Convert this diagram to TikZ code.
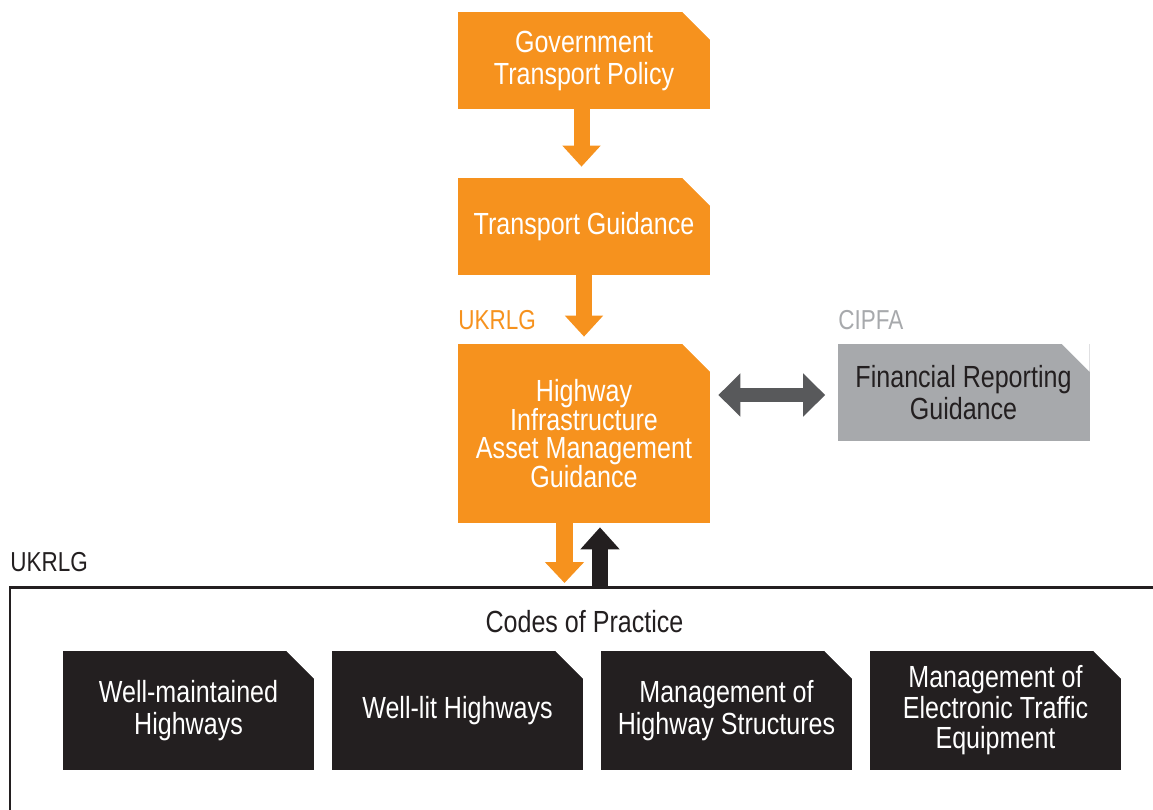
\documentclass[tikz,border=0pt]{standalone}
\usepackage{fontspec}
\setmainfont{Liberation Sans}[FakeStretch=0.82]
\usetikzlibrary{arrows.meta,positioning,calc}
\definecolor{hiorange}{HTML}{F6921E}
\definecolor{cipfagrey}{HTML}{A7A9AC}
\definecolor{linkgrey}{HTML}{58595B}
\definecolor{codesblack}{HTML}{231F20}
\tikzset{
    panel/.style={inner sep=0pt, align=center, minimum width=5.04cm, minimum height=1.94cm,
        font=\fontsize{17.4}{18.2}\selectfont,
        path picture={\fill[white] ([xshift=-0.55cm]path picture bounding box.north east)
            -- (path picture bounding box.north east) -- ([yshift=-0.55cm]path picture bounding box.north east) -- cycle;}},
    orangebox/.style={panel, fill=hiorange, text=white},
    greybox/.style={panel, fill=cipfagrey, text=codesblack},
    blackbox/.style={panel, fill=codesblack, text=white, minimum width=5.02cm, minimum height=2.38cm},
    flowarrow/.style={line width=0.32cm, -{Triangle[length=0.42cm, width=0.74cm]}},
    tag/.style={inner sep=0pt, anchor=west, font=\fontsize{15.6}{17}\selectfont}
}
\begin{document}
\begin{tikzpicture}
\useasboundingbox (0,0) rectangle (23.06,-16.18);
\node[orangebox] (gov) at (11.68,-1.21) {Government\\Transport Policy};
\node[orangebox] (guide) at (11.68,-4.53) {Transport Guidance};
\node[orangebox, minimum height=3.58cm, font=\fontsize{17.4}{16.4}\selectfont] (hiam) at (11.68,-8.67) {Highway\\Infrastructure\\Asset Management\\Guidance};
\node[greybox] (fin) at (19.27,-7.85) {Financial Reporting\\Guidance};
\node[tag, text=hiorange] (ukrlgtop) at (9.16,-6.4) {UKRLG};
\node[tag, text=cipfagrey] (cipfa) at (16.76,-6.4) {CIPFA};
\node[tag, text=codesblack] (ukrlg) at (0.2,-11.24) {UKRLG};
\node[inner sep=0pt, font=\fontsize{17.4}{18.2}\selectfont, text=codesblack] (codes) at (11.69,-12.44) {Codes of Practice};

\node[blackbox] (wellkept) at (3.77,-14.21) {Well-maintained\\Highways};
\node[blackbox] (welllit) at (9.15,-14.21) {Well-lit Highways};
\node[blackbox] (structures) at (14.53,-14.21) {Management of\\Highway Structures};
\node[blackbox, font=\fontsize{17.4}{17.4}\selectfont] (traffic) at (19.91,-14.21) {Management of\\Electronic Traffic\\Equipment};

\coordinate (fl) at (0.2,-16.4);
\coordinate (ft) at (0.2,-11.74);
\coordinate (fr) at (23.3,-11.74);
\draw[line width=0.06cm, codesblack] (fl) -- (ft) -- (fr);

\draw[flowarrow, hiorange] ([xshift=-0.05cm]gov.south) -- ([xshift=-0.05cm, yshift=0.22cm]guide.north);
\draw[flowarrow, hiorange] (guide.south) -- ([yshift=0.14cm]hiam.north);
\draw[line width=0.28cm, linkgrey, {Triangle[length=0.44cm, width=0.84cm]}-{Triangle[length=0.44cm, width=0.84cm]}]
    ([xshift=0.16cm, yshift=-0.05cm]hiam.east |- fin.west) -- ([xshift=-0.24cm, yshift=-0.05cm]fin.west);
\draw[flowarrow, hiorange, line width=0.34cm, -{Triangle[length=0.42cm, width=0.76cm]}]
    ($(hiam.south)+(-0.39,0)$) -- ($(hiam.south |- ft)+(-0.39,0.08)$);
\draw[flowarrow, codesblack, -{Triangle[length=0.44cm, width=0.76cm]}]
    ($(hiam.south |- ft)+(0.32,-0.03)$) -- ($(hiam.south)+(0.32,-0.08)$);
\end{tikzpicture}
\end{document}
